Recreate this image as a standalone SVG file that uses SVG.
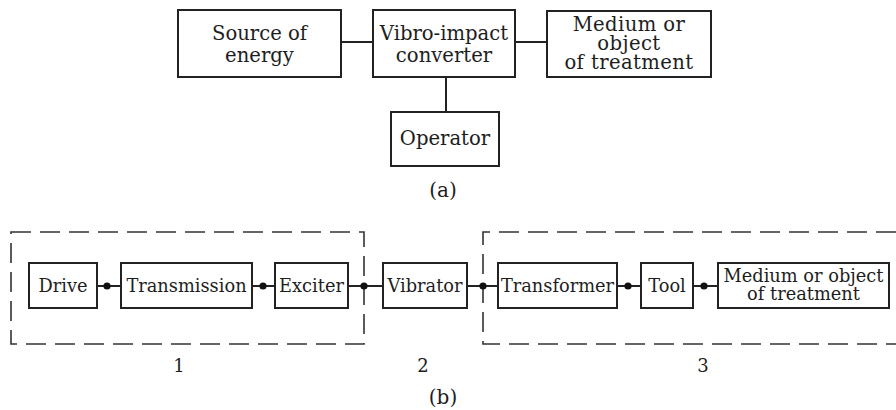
<svg xmlns="http://www.w3.org/2000/svg" width="896" height="410" viewBox="0 0 896 410">
  <style>
    .box { fill: #fff; stroke: #222; stroke-width: 2; }
    .wire { stroke: #222; stroke-width: 2; fill: none; }
    .group { stroke: #333; stroke-width: 1.6; fill: none; stroke-dasharray: 20 9; }
    .dot { fill: #111; }
    text { font-family: "DejaVu Serif", "Liberation Serif", serif; fill: #1e1e1e; text-anchor: middle; }
    .ta { font-size: 19.6px; }
    .tm { font-size: 19.6px; letter-spacing: 0.4px; }
    .tb { font-size: 17.8px; }
    .lbl { font-size: 18px; }
    .cap { font-size: 20px; }
  </style>

  <!-- (a) generalized scheme -->
  <g id="connectors-a">
    <line class="wire" x1="341" y1="42" x2="373" y2="42"/>
    <line class="wire" x1="515" y1="42" x2="547" y2="42"/>
    <line class="wire" x1="446" y1="77" x2="446" y2="112"/>
  </g>
  <g id="source">
    <rect class="box" x="178" y="10" width="163" height="67"/>
    <text class="ta" x="259.5" y="40">Source of</text>
    <text class="ta" x="259.5" y="62">energy</text>
  </g>
  <g id="converter">
    <rect class="box" x="373" y="10" width="142" height="67"/>
    <text class="ta" x="444" y="40">Vibro-impact</text>
    <text class="ta" x="444" y="62">converter</text>
  </g>
  <g id="medium-a">
    <rect class="box" x="547" y="11" width="164" height="66"/>
    <text class="tm" x="629" y="31">Medium or</text>
    <text class="tm" x="629" y="50">object</text>
    <text class="tm" x="629" y="69">of treatment</text>
  </g>
  <g id="operator">
    <rect class="box" x="391" y="112" width="108" height="54"/>
    <text class="ta" x="445" y="145">Operator</text>
  </g>
  <text class="cap" x="443" y="197">(a)</text>

  <!-- (b) detailed chain -->
  <g id="groups">
    <path class="group" d="M11,232 H364 V344 H11 Z"/>
    <path class="group" d="M896,232 H483 V344 H896"/>
  </g>
  <g id="connectors-b">
    <line class="wire" x1="97" y1="286" x2="121" y2="286"/>
    <line class="wire" x1="252" y1="286" x2="275" y2="286"/>
    <line class="wire" x1="348" y1="286" x2="383" y2="286"/>
    <line class="wire" x1="467" y1="286" x2="498" y2="286"/>
    <line class="wire" x1="617" y1="286" x2="641" y2="286"/>
    <line class="wire" x1="693" y1="286" x2="718" y2="286"/>
    <circle class="dot" cx="107" cy="286" r="3.6"/>
    <circle class="dot" cx="263" cy="286" r="3.6"/>
    <circle class="dot" cx="364" cy="286" r="3.6"/>
    <circle class="dot" cx="483" cy="286" r="3.6"/>
    <circle class="dot" cx="628" cy="286" r="3.6"/>
    <circle class="dot" cx="704" cy="286" r="3.6"/>
  </g>
  <g id="drive">
    <rect class="box" x="29" y="263" width="68" height="45"/>
    <text class="tb" x="63" y="292">Drive</text>
  </g>
  <g id="transmission">
    <rect class="box" x="121" y="263" width="131" height="45"/>
    <text class="tb" x="186.5" y="292">Transmission</text>
  </g>
  <g id="exciter">
    <rect class="box" x="275" y="263" width="73" height="45"/>
    <text class="tb" x="311.5" y="292">Exciter</text>
  </g>
  <g id="vibrator">
    <rect class="box" x="383" y="263" width="84" height="45"/>
    <text class="tb" x="425" y="292">Vibrator</text>
  </g>
  <g id="transformer">
    <rect class="box" x="498" y="263" width="119" height="45"/>
    <text class="tb" x="557.5" y="292">Transformer</text>
  </g>
  <g id="tool">
    <rect class="box" x="641" y="263" width="52" height="45"/>
    <text class="tb" x="667" y="292">Tool</text>
  </g>
  <g id="medium-b">
    <rect class="box" x="718" y="263" width="171" height="45"/>
    <text class="tb" x="803.5" y="282">Medium or object</text>
    <text class="tb" x="803.5" y="300">of treatment</text>
  </g>
  <text class="lbl" x="179" y="372">1</text>
  <text class="lbl" x="423" y="372">2</text>
  <text class="lbl" x="703" y="372">3</text>
  <text class="cap" x="443" y="404">(b)</text>
</svg>
